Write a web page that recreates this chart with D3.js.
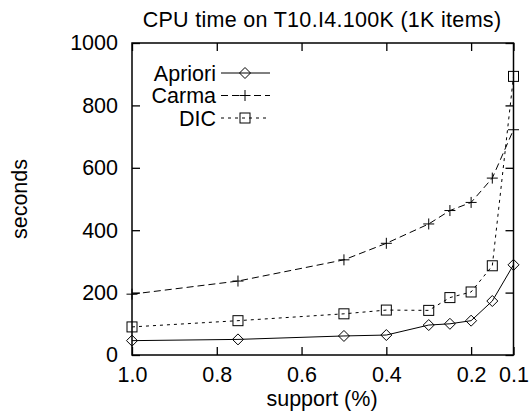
<!DOCTYPE html>
<html><head><meta charset="utf-8">
<script src="https://cdn.jsdelivr.net/npm/d3@7"></script>
<style>body{margin:0;background:#fff}svg{display:block}text{font-family:"Liberation Sans",Arial,sans-serif;fill:#000}</style>
</head><body><svg id="c" width="530" height="416"></svg>
<script>
const supports = [1.0, 0.75, 0.5, 0.4, 0.3, 0.25, 0.2, 0.15, 0.1];
const apriori = [46, 50, 61, 64, 96, 100, 110, 173, 289];
const carma = [195, 237, 305, 358, 420, 463, 489, 567, 722];
const dic = [90, 110, 132, 144, 143, 184, 202, 286, 893];
const xTicks = [1.0, 0.8, 0.6, 0.4, 0.2, 0.1];
const yTicks = [0, 200, 400, 600, 800, 1000];
const seriesNames = ["Apriori", "Carma", "DIC"];
const titleText = "CPU time on T10.I4.100K (1K items)";
const xLabel = "support (%)";
const yLabel = "seconds";

const L = 132, R = 513.5, T = 43, B = 355;
const svg = d3.select("#c");
const x = d3.scaleLinear().domain([1.0, 0.1]).range([L, R]);
const y = d3.scaleLinear().domain([0, 1000]).range([B, T]);
const FS = 21.5;
const FF = "Liberation Sans, Arial, sans-serif";

// axes (ticks inward, mirrored)
const tl = 8;
const g = svg.append("g");
g.append("g").attr("transform", `translate(0,${B})`)
  .call(d3.axisBottom(x).tickValues(xTicks).tickFormat(d3.format(".1f")).tickSizeInner(-tl).tickSizeOuter(0).tickPadding(12))
  .call(a => { a.select(".domain").remove(); a.selectAll("text").attr("font-size", FS).attr("font-family", FF).attr("dy", "0.71em"); a.selectAll("line").attr("stroke","#000").attr("stroke-width",1.3); });
g.append("g").attr("transform", `translate(0,${T})`)
  .call(d3.axisTop(x).tickValues(xTicks).tickFormat("").tickSizeInner(-tl).tickSizeOuter(0))
  .call(a => { a.select(".domain").remove(); a.selectAll("line").attr("stroke","#000").attr("stroke-width",1.3); });
g.append("g").attr("transform", `translate(${L},0)`)
  .call(d3.axisLeft(y).tickValues(yTicks).tickFormat(d3.format("d")).tickSizeInner(-tl).tickSizeOuter(0).tickPadding(14))
  .call(a => { a.select(".domain").remove(); a.selectAll("text").attr("font-size", FS).attr("font-family", FF); a.selectAll("line").attr("stroke","#000").attr("stroke-width",1.3); });
g.append("g").attr("transform", `translate(${R},0)`)
  .call(d3.axisRight(y).tickValues(yTicks).tickFormat("").tickSizeInner(-tl).tickSizeOuter(0))
  .call(a => { a.select(".domain").remove(); a.selectAll("line").attr("stroke","#000").attr("stroke-width",1.3); });

const styles = [
  {data: apriori, dash: null, sym: "diamond"},
  {data: carma, dash: "7,4", sym: "plus"},
  {data: dic, dash: "3,4", sym: "square"}
];
function drawSym(sel, type, cx, cy) {
  if (type === "diamond") {
    sel.append("path").attr("d", `M${cx},${cy-5.5}L${cx+5.5},${cy}L${cx},${cy+5.5}L${cx-5.5},${cy}Z`)
      .attr("fill", "none").attr("stroke", "#000").attr("stroke-width", 1);
  } else if (type === "plus") {
    sel.append("path").attr("d", `M${cx-5.5},${cy}H${cx+5.5}M${cx},${cy-5.5}V${cy+5.5}`)
      .attr("fill", "none").attr("stroke", "#000").attr("stroke-width", 1);
  } else {
    sel.append("rect").attr("x", cx-5).attr("y", cy-5).attr("width", 10).attr("height", 10)
      .attr("fill", "none").attr("stroke", "#000").attr("stroke-width", 1);
  }
}
const line = d3.line().x((d, i) => x(supports[i])).y(d => y(d));
styles.forEach(s => {
  svg.append("path").attr("d", line(s.data)).attr("fill", "none").attr("stroke", "#000")
    .attr("stroke-width", 1).attr("stroke-dasharray", s.dash);
  const gs = svg.append("g");
  s.data.forEach((v, i) => drawSym(gs, s.sym, x(supports[i]), y(v)));
});

// frame
svg.append("rect").attr("x", L).attr("y", T).attr("width", R-L).attr("height", B-T)
  .attr("fill", "none").attr("stroke", "#000").attr("stroke-width", 1.5);

// legend
const legY0 = 73, legDY = 22.5;
seriesNames.forEach((n, i) => {
  const yy = legY0 + i*legDY;
  svg.append("text").attr("x", 216).attr("y", yy).attr("dy", "0.35em").attr("text-anchor", "end")
    .attr("font-size", FS).text(n);
  svg.append("line").attr("x1", 221).attr("x2", 270).attr("y1", yy).attr("y2", yy)
    .attr("stroke", "#000").attr("stroke-width", 1).attr("stroke-dasharray", styles[i].dash);
  drawSym(svg, styles[i].sym, 245, yy);
});

// title and labels
svg.append("text").attr("x", 322).attr("y", 27).attr("text-anchor", "middle").attr("font-size", FS)
  .attr("letter-spacing", 0.3).text(titleText);
svg.append("text").attr("x", 322).attr("y", 406).attr("text-anchor", "middle").attr("font-size", FS).text(xLabel);
svg.append("text").attr("transform", `translate(27,199) rotate(-90)`).attr("text-anchor", "middle").attr("font-size", FS).text(yLabel);
</script></body></html>
